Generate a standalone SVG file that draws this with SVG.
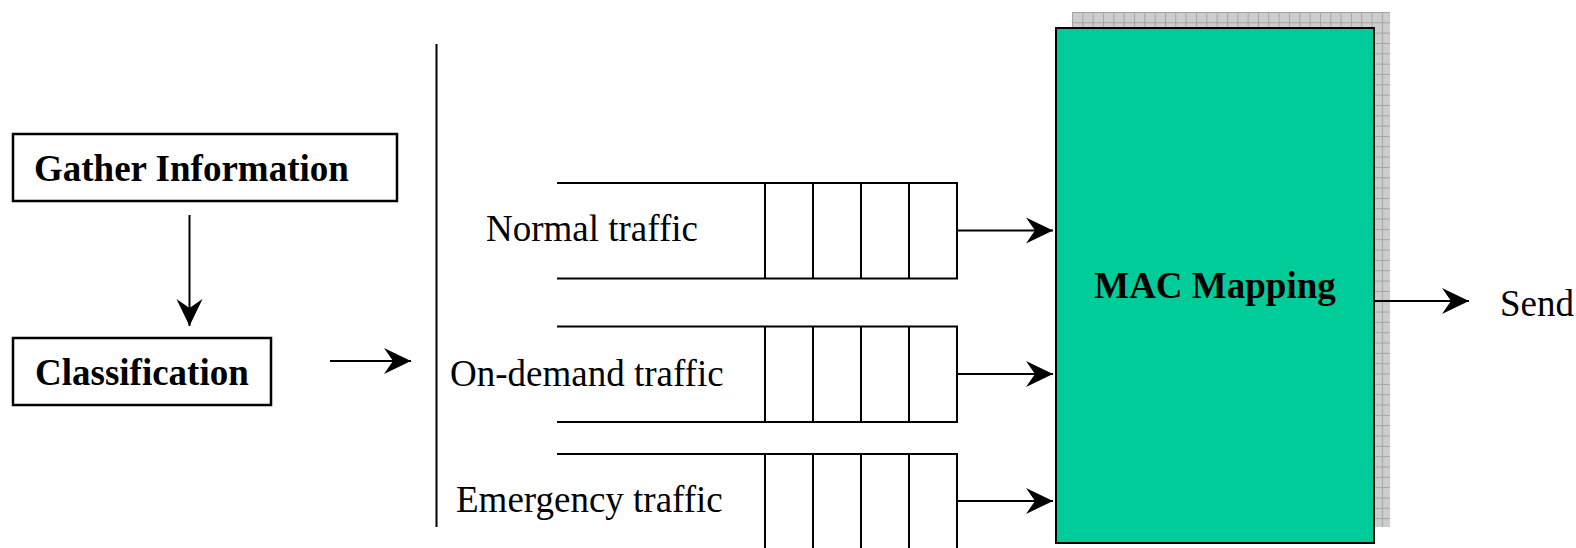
<svg xmlns="http://www.w3.org/2000/svg" width="1576" height="548" viewBox="0 0 1576 548">
<style>
.box{fill:#fff;stroke:#000;stroke-width:2.5}
.ln{stroke:#000;stroke-width:2;fill:none}
.arr{stroke:#000;stroke-width:2;fill:none;marker-end:url(#ah)}
.b{font-family:"Liberation Serif","Times New Roman",serif;font-weight:bold;font-size:37px;fill:#000}
.r{font-family:"Liberation Serif","Times New Roman",serif;font-size:37px;fill:#000}
</style>
<defs>
<marker id="ah" markerUnits="userSpaceOnUse" viewBox="-28 -14 30 28" refX="0" refY="0" markerWidth="30" markerHeight="28" orient="auto">
<path d="M0,0 L-27,-13 L-18,0 L-27,13 Z" fill="#000"/>
</marker>
<pattern id="grid" patternUnits="userSpaceOnUse" x="1072" y="12" width="10.33" height="10.33">
<rect width="10.33" height="10.33" fill="#cdcdcd"/>
<path d="M0,0.5 H10.33 M0.5,0 V10.33" stroke="#a4a4a4" stroke-width="1"/>
</pattern>
</defs>
<rect width="1576" height="548" fill="#fff"/>
<g id="gather">
<rect class="box" x="13" y="134" width="384" height="67"/>
<text class="b" x="34" y="181">Gather Information</text>
</g>
<g id="classification">
<rect class="box" x="13" y="338" width="258" height="67"/>
<text class="b" x="35" y="385">Classification</text>
</g>
<g id="divider">
<line class="ln" x1="436.5" y1="44" x2="436.5" y2="527"/>
</g>
<g id="queue-normal">
<path class="ln" d="M557,183 H957 V278.5 H557 M765,183 V278.5 M813,183 V278.5 M861,183 V278.5 M909,183 V278.5"/>
<text class="r" x="486" y="241">Normal traffic</text>
</g>
<g id="queue-ondemand">
<path class="ln" d="M557,326.5 H957 V422 H557 M765,326.5 V422 M813,326.5 V422 M861,326.5 V422 M909,326.5 V422"/>
<text class="r" x="450" y="386">On-demand traffic</text>
</g>
<g id="queue-emergency">
<path class="ln" d="M557,454 H957 V549 M765,454 V549 M813,454 V549 M861,454 V549 M909,454 V549"/>
<text class="r" x="456" y="512">Emergency traffic</text>
</g>
<g id="mac">
<rect x="1072" y="12" width="318" height="515" fill="url(#grid)"/>
<rect x="1056" y="28" width="318" height="515" fill="#00cc99" stroke="#000" stroke-width="2"/>
<text class="b" x="1215" y="298" text-anchor="middle">MAC Mapping</text>
</g>
<g id="send">
<text class="r" x="1500" y="316">Send</text>
</g>
<g id="connectors">
<line class="arr" x1="189.5" y1="215" x2="189.5" y2="326"/>
<line class="arr" x1="330" y1="361" x2="411" y2="361"/>
<line class="arr" x1="957" y1="230.5" x2="1053" y2="230.5"/>
<line class="arr" x1="957" y1="374" x2="1053" y2="374"/>
<line class="arr" x1="957" y1="501" x2="1053" y2="501"/>
<line class="arr" x1="1374" y1="301" x2="1469" y2="301"/>
</g>
</svg>
